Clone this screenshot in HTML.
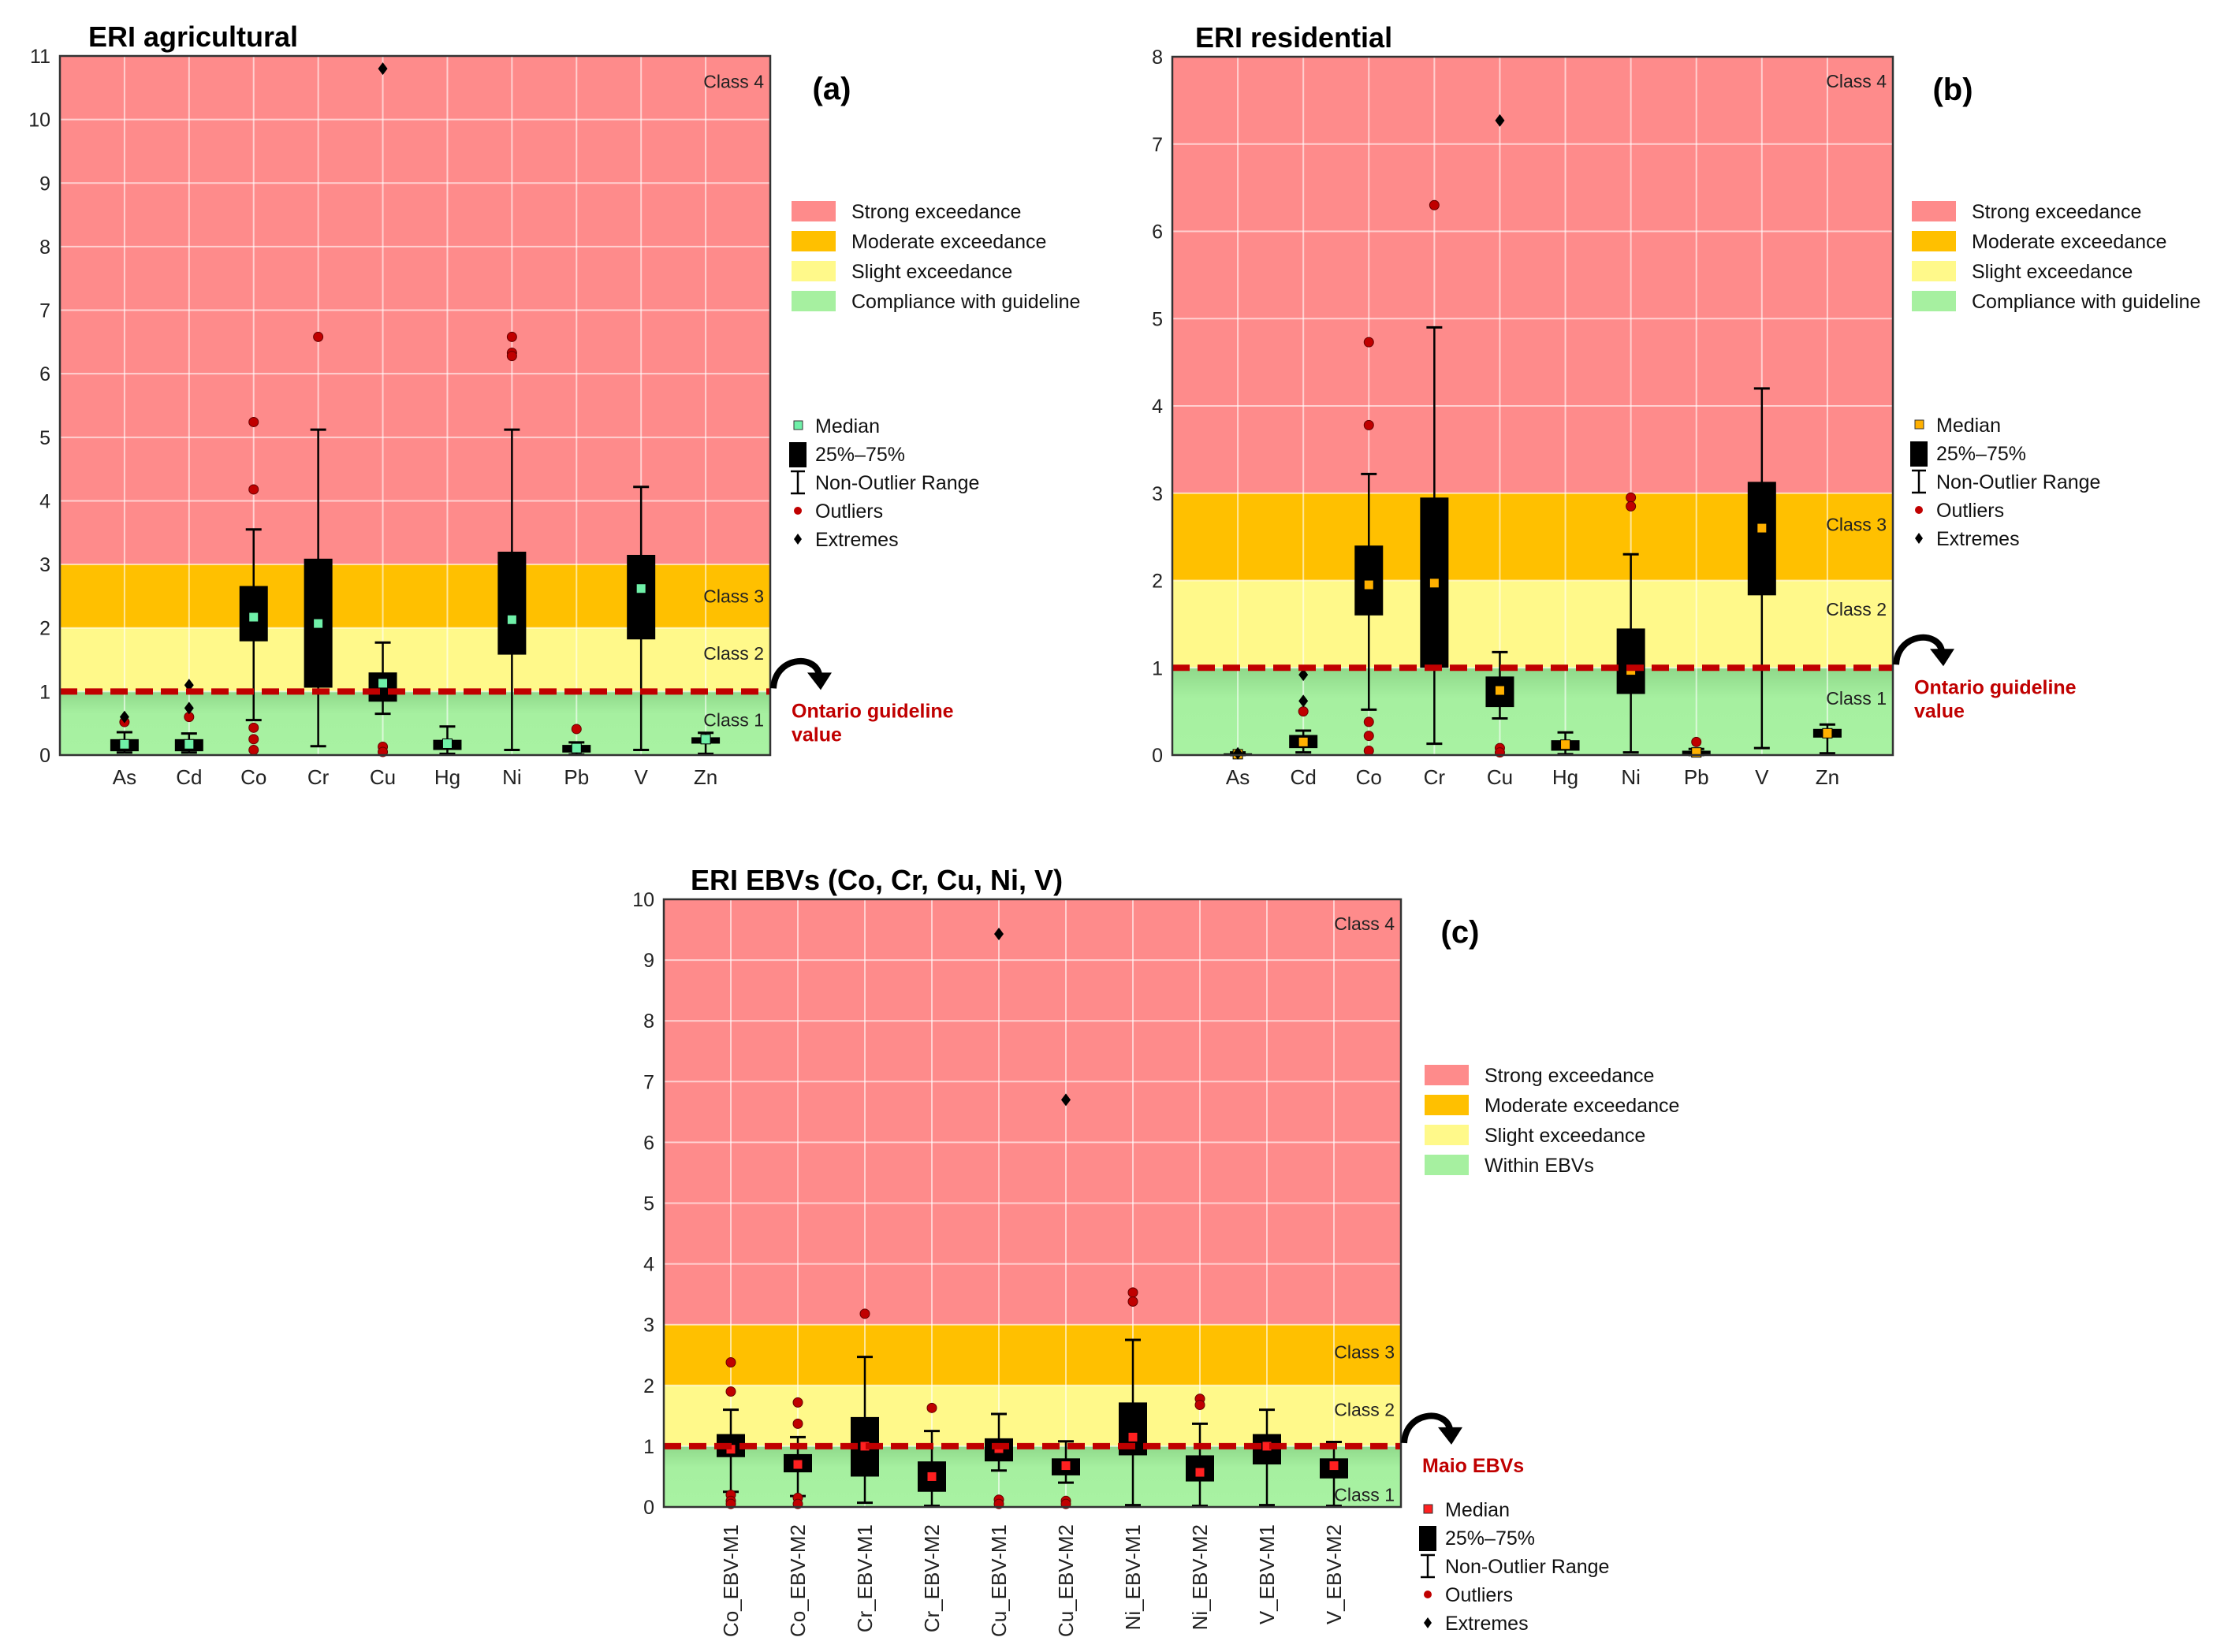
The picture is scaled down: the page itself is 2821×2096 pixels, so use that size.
<!DOCTYPE html>
<html><head><meta charset="utf-8">
<style>
html,body{margin:0;padding:0;background:#fff;}
svg{display:block;font-family:"Liberation Sans",Arial,sans-serif;}
</style></head>
<body>
<svg id="chart" width="2821" height="2096" viewBox="0 0 2821 2096" xmlns="http://www.w3.org/2000/svg">
<defs>
<linearGradient id="gshade" x1="0" y1="0" x2="0" y2="1">
<stop offset="0" stop-color="#8fd88a"/><stop offset="0.35" stop-color="#a6f0a0"/><stop offset="1" stop-color="#a8f2a2"/>
</linearGradient>
</defs>
</svg>
<script>
// ---- Panel (a) data ----
const catsA = ["As","Cd","Co","Cr","Cu","Hg","Ni","Pb","V","Zn"];
const q1A = [0.06,0.06,1.79,1.06,0.84,0.08,1.58,0.04,1.82,0.18];
const q3A = [0.25,0.25,2.66,3.09,1.30,0.24,3.20,0.16,3.15,0.28];
const medA = [0.17,0.17,2.17,2.07,1.13,0.18,2.13,0.11,2.62,0.25];
const wloA = [0.04,0.04,0.55,0.14,0.65,0.02,0.08,0.01,0.08,0.02];
const whiA = [0.36,0.34,3.55,5.12,1.77,0.45,5.12,0.20,4.22,0.35];
const outA = [[0.52],[0.60],[5.24,4.18,0.43,0.25,0.08],[6.58],[0.13,0.05],[],[6.58,6.33,6.28],[0.41],[],[]];
const extA = [[0.60],[0.74,1.10],[],[],[10.8],[],[],[],[],[]];
const ticksA = [0,1,2,3,4,5,6,7,8,9,10,11];
// ---- Panel (b) data ----
const catsB = ["As","Cd","Co","Cr","Cu","Hg","Ni","Pb","V","Zn"];
const q1B = [0.00,0.08,1.60,1.00,0.55,0.05,0.70,0.01,1.83,0.20];
const q3B = [0.02,0.23,2.40,2.95,0.90,0.17,1.45,0.05,3.13,0.30];
const medB = [0.01,0.15,1.95,1.97,0.74,0.12,0.97,0.03,2.60,0.25];
const wloB = [0.00,0.03,0.52,0.13,0.42,0.01,0.03,0.00,0.08,0.02];
const whiB = [0.03,0.28,3.22,4.90,1.18,0.26,2.30,0.07,4.20,0.35];
const outB = [[],[0.50],[4.73,3.78,0.38,0.22,0.05],[6.30],[0.08,0.03],[],[2.95,2.85],[0.15],[],[]];
const extB = [[0.02],[0.62,0.92],[],[],[7.27],[],[],[],[],[]];
const ticksB = [0,1,2,3,4,5,6,7,8];
// ---- Panel (c) data ----
const catsC = ["Co_EBV-M1","Co_EBV-M2","Cr_EBV-M1","Cr_EBV-M2","Cu_EBV-M1","Cu_EBV-M2","Ni_EBV-M1","Ni_EBV-M2","V_EBV-M1","V_EBV-M2"];
const q1C = [0.82,0.57,0.50,0.25,0.75,0.52,0.85,0.42,0.70,0.47];
const q3C = [1.20,0.87,1.48,0.75,1.13,0.80,1.72,0.85,1.20,0.80];
const medC = [0.95,0.70,1.00,0.50,0.96,0.68,1.15,0.57,1.00,0.68];
const wloC = [0.25,0.18,0.07,0.02,0.60,0.40,0.03,0.02,0.03,0.02];
const whiC = [1.60,1.15,2.47,1.25,1.53,1.08,2.75,1.37,1.60,1.07];
const outC = [[2.38,1.90,0.20,0.10,0.05],[1.72,1.37,0.15,0.05],[3.18],[1.63],[0.12,0.05],[0.10,0.05],[3.53,3.38],[1.78,1.68],[],[]];
const extC = [[],[],[],[],[9.43],[6.70],[],[],[],[]];
const ticksC = [0,1,2,3,4,5,6,7,8,9,10];

const NS="http://www.w3.org/2000/svg";
const svg=document.getElementById('chart');
function el(tag,attrs,parent){const e=document.createElementNS(NS,tag);for(const k in attrs)e.setAttribute(k,attrs[k]);(parent||svg).appendChild(e);return e;}
function txt(s,attrs,parent){const t=el('text',attrs,parent);t.textContent=s;return t;}

function panel(cfg){
  const g=el('g',{});
  
  
  const L=cfg.L,R=cfg.R,T=cfg.T,B=cfg.B,ymax=cfg.ymax;
  const y=v=>B-(v/ymax)*(B-T);
  const n=cfg.cats.length, step=(R-L)/(n+1);
  const x=i=>L+step*(i+1);
  const bands=[[3,ymax,'#fe8b8b','class-4-band'],[2,3,'#ffc000','class-3-band'],[1,2,'#fff98a','class-2-band'],[0,1,'url(#gshade)','class-1-band']];
  bands.forEach(b=>{const r=el('rect',{x:L,y:y(b[1]),width:R-L,height:y(b[0])-y(b[1]),fill:b[2]},g);
    });
  cfg.ticks.forEach(t=>{if(t>0&&t<ymax){const l=el('line',{x1:L,x2:R,y1:y(t),y2:y(t),stroke:'#ffffff','stroke-opacity':0.6,'stroke-width':2},g);
    }});
  cfg.cats.forEach((c,i)=>{const l=el('line',{x1:x(i),x2:x(i),y1:T,y2:B,stroke:'#ffffff','stroke-opacity':0.6,'stroke-width':2},g);
    });
  cfg.classPos.forEach((v,i)=>{const t=txt('Class '+(i+1),{x:R-8,y:y(v)+8,'text-anchor':'end','font-size':23,fill:'#222'},g);
    });
  cfg.ticks.forEach(t=>{const s=txt(String(t),{x:L-12,y:y(t)+9,'text-anchor':'end','font-size':25,fill:'#222'},g);
    });
  cfg.cats.forEach((c,i)=>{let s;
    if(cfg.rot){s=txt(c,{x:0,y:0,transform:`translate(${x(i)+9},${B+22}) rotate(-90)`,'text-anchor':'end','font-size':26,fill:'#222'},g);}
    else s=txt(c,{x:x(i),y:B+37,'text-anchor':'middle','font-size':26,fill:'#222'},g);
    });
  const bw=36;
  cfg.cats.forEach((c,i)=>{
    const bg=el('g',{},g);
    
    
    el('line',{x1:x(i),x2:x(i),y1:y(cfg.whi[i]),y2:y(cfg.wlo[i]),stroke:'#000','stroke-width':2.5},bg);
    el('line',{x1:x(i)-10,x2:x(i)+10,y1:y(cfg.whi[i]),y2:y(cfg.whi[i]),stroke:'#000','stroke-width':3},bg);
    el('line',{x1:x(i)-10,x2:x(i)+10,y1:y(cfg.wlo[i]),y2:y(cfg.wlo[i]),stroke:'#000','stroke-width':3},bg);
    const h=Math.max(3,y(cfg.q1[i])-y(cfg.q3[i]));
    el('rect',{x:x(i)-bw/2,y:y(cfg.q3[i]),width:bw,height:h,fill:'#000'},bg);
    el('rect',{x:x(i)-6,y:y(cfg.med[i])-6,width:12,height:12,fill:cfg.medColor,stroke:'#000','stroke-width':1},bg);
    cfg.out[i].forEach(v=>{const o=el('circle',{cx:x(i),cy:y(v),r:6,fill:'#c00000',stroke:'#600','stroke-width':1},g);
      });
    cfg.ext[i].forEach(v=>{const d=el('path',{d:`M${x(i)},${y(v)-8} L${x(i)+6},${y(v)} L${x(i)},${y(v)+8} L${x(i)-6},${y(v)} Z`,fill:'#000'},g);
      });
  });
  const dl=el('line',{x1:L,x2:R,y1:y(1),y2:y(1),stroke:'#c00000','stroke-width':8,'stroke-dasharray':'22 10'},g);
  
  const bd=el('rect',{x:L,y:T,width:R-L,height:B-T,fill:'none',stroke:'#333','stroke-width':2.5},g);
  
  const tt=txt(cfg.title,{x:cfg.titleX,y:T-12,'font-size':36,'font-weight':'bold',fill:'#000'},g);
  
  const pl=txt(cfg.letter,{x:cfg.letterX,y:T+55,'font-size':40,'font-weight':'bold',fill:'#000','text-anchor':'middle'},g);
  
  const ag=el('g',{},g);
  
  const ay=y(1);
  el('path',{d:`M${R+4},${ay-4} C${R+6},${ay-44} ${R+56},${ay-48} ${R+62},${ay-22}`,fill:'none',stroke:'#000','stroke-width':8},ag);
  el('path',{d:`M${R+47},${ay-24} L${R+78},${ay-24} L${R+64},${ay-2} Z`,fill:'#000'},ag);
  cfg.guideText.forEach((s,k)=>{const t=txt(s,{x:R+27,y:ay+33+k*30,'font-size':25,'font-weight':'bold',fill:'#c00000'},g);
    });
  const lx=cfg.legX, ly=cfg.legY;
  const lc=[['#fe8b8b','Strong exceedance'],['#ffc000','Moderate exceedance'],['#fff98a','Slight exceedance'],['#a6f0a0',cfg.greenLabel]];
  lc.forEach((e,k)=>{const lg=el('g',{},g);
    
    el('rect',{x:lx,y:ly+k*38-13,width:56,height:26,fill:e[0]},lg);
    txt(e[1],{x:lx+76,y:ly+k*38+9,'font-size':25,fill:'#111'},lg);});
  const mx=cfg.leg2X,my=cfg.leg2Y,ls=36;
  const l2=el('g',{},g);
  
  el('rect',{x:mx-5,y:my-6,width:11,height:11,fill:cfg.medColor,stroke:'#333','stroke-width':1},l2);
  el('rect',{x:mx-11,y:my+ls-15,width:22,height:32,fill:'#000'},l2);
  el('line',{x1:mx,x2:mx,y1:my+2*ls-14,y2:my+2*ls+14,stroke:'#000','stroke-width':2.5},l2);
  el('line',{x1:mx-9,x2:mx+9,y1:my+2*ls-14,y2:my+2*ls-14,stroke:'#000','stroke-width':2.5},l2);
  el('line',{x1:mx-9,x2:mx+9,y1:my+2*ls+14,y2:my+2*ls+14,stroke:'#000','stroke-width':2.5},l2);
  el('circle',{cx:mx,cy:my+3*ls,r:5,fill:'#c00000'},l2);
  el('path',{d:`M${mx},${my+4*ls-7} L${mx+5},${my+4*ls} L${mx},${my+4*ls+7} L${mx-5},${my+4*ls} Z`,fill:'#000'},l2);
  ['Median','25%–75%','Non-Outlier Range','Outliers','Extremes'].forEach((s,k)=>txt(s,{x:mx+22,y:my+k*ls+9,'font-size':25,fill:'#111'},l2));
}

panel({name:'panel-a-agricultural',L:76,R:977,T:71,B:958,ymax:11,cats:catsA,q1:q1A,q3:q3A,med:medA,wlo:wloA,whi:whiA,out:outA,ext:extA,ticks:ticksA,
  medColor:'#6ff0a8',title:'ERI agricultural',titleX:112,letter:'(a)',letterX:1055,classPos:[0.55,1.6,2.5,10.6],
  guideText:['Ontario guideline','value'],greenLabel:'Compliance with guideline',legX:1004,legY:268,leg2X:1012,leg2Y:540});
panel({name:'panel-b-residential',L:1487,R:2401,T:72,B:958,ymax:8,cats:catsB,q1:q1B,q3:q3B,med:medB,wlo:wloB,whi:whiB,out:outB,ext:extB,ticks:ticksB,
  medColor:'#ffb000',title:'ERI residential',titleX:1516,letter:'(b)',letterX:2477,classPos:[0.65,1.67,2.64,7.72],
  guideText:['Ontario guideline','value'],greenLabel:'Compliance with guideline',legX:2425,legY:268,leg2X:2434,leg2Y:539});
panel({name:'panel-c-ebvs',L:842,R:1777,T:1141,B:1912,ymax:10,cats:catsC,q1:q1C,q3:q3C,med:medC,wlo:wloC,whi:whiC,out:outC,ext:extC,ticks:ticksC,rot:true,
  medColor:'#ff2020',title:'ERI EBVs (Co, Cr, Cu, Ni, V)',titleX:876,letter:'(c)',letterX:1852,classPos:[0.2,1.6,2.55,9.6],
  guideText:['Maio EBVs'],greenLabel:'Within EBVs',legX:1807,legY:1364,leg2X:1811,leg2Y:1915});
</script>
</body></html>
